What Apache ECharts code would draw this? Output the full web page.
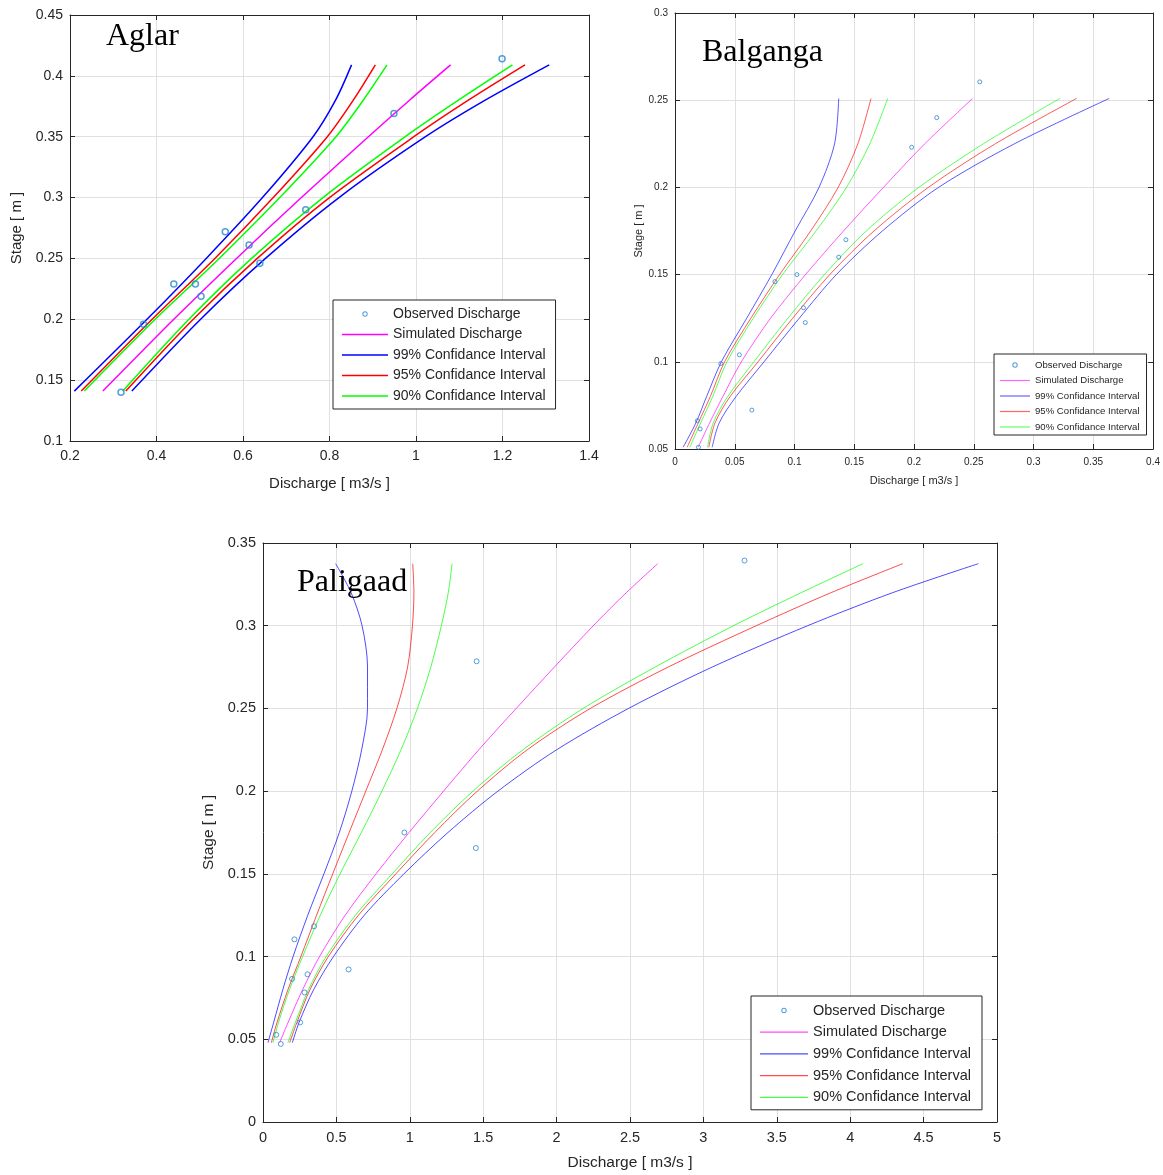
<!DOCTYPE html>
<html><head><meta charset="utf-8">
<script src="https://cdn.jsdelivr.net/npm/echarts@6/dist/echarts.min.js"></script>
<style>html,body{margin:0;padding:0;background:#fff}#c{width:1163px;height:1175px}</style>
</head><body><div id="c"></div>
<script>
// ---------------- Aglar ----------------
const aglarObsQ = [0.318, 0.370, 0.440, 0.490, 0.503, 0.559, 0.614, 0.639, 0.745, 0.949, 1.199];
const aglarObsH = [0.140, 0.196, 0.229, 0.229, 0.219, 0.272, 0.261, 0.246, 0.290, 0.369, 0.414];
const aglarStage = [0.141, 0.2, 0.25, 0.3, 0.35, 0.38, 0.409];
const aglarSim   = [0.276, 0.440, 0.585, 0.735, 0.890, 0.985, 1.080];
const aglar99Lo  = [0.210, 0.378, 0.515, 0.645, 0.762, 0.814, 0.851];
const aglar99Hi  = [0.343, 0.502, 0.652, 0.822, 1.022, 1.160, 1.308];
const aglar95Lo  = [0.226, 0.390, 0.535, 0.670, 0.795, 0.855, 0.906];
const aglar95Hi  = [0.329, 0.485, 0.633, 0.800, 0.995, 1.121, 1.252];
const aglar90Lo  = [0.233, 0.397, 0.545, 0.685, 0.815, 0.878, 0.933];
const aglar90Hi  = [0.322, 0.475, 0.620, 0.785, 0.975, 1.098, 1.223];

// ---------------- Balganga ----------------
const balObsQ = [0.255, 0.219, 0.198, 0.143, 0.137, 0.102, 0.0836, 0.1075, 0.109, 0.0539, 0.0383, 0.0643, 0.0187, 0.021, 0.0196];
const balObsH = [0.2605, 0.240, 0.223, 0.170, 0.160, 0.150, 0.146, 0.131, 0.1225, 0.104, 0.099, 0.0723, 0.0662, 0.0615, 0.051];
const balStage = [0.051, 0.065, 0.08, 0.1, 0.125, 0.15, 0.175, 0.2, 0.225, 0.251];
const balSim   = [0.0194, 0.029, 0.040, 0.0555, 0.080, 0.1092, 0.141, 0.1744, 0.209, 0.249];
const bal99Lo  = [0.0068, 0.0175, 0.0264, 0.0388, 0.0600, 0.081, 0.1005, 0.1205, 0.1335, 0.137];
const bal99Hi  = [0.0311, 0.037, 0.051, 0.0745, 0.104, 0.135, 0.1735, 0.2205, 0.284, 0.3633];
const bal95Lo  = [0.0102, 0.0195, 0.0295, 0.0415, 0.0635, 0.0875, 0.1135, 0.1365, 0.1530, 0.164];
const bal95Hi  = [0.0283, 0.0335, 0.046, 0.0695, 0.0985, 0.1295, 0.1665, 0.212, 0.268, 0.336];
const bal90Lo  = [0.0124, 0.0215, 0.0315, 0.0435, 0.0655, 0.090, 0.118, 0.1435, 0.163, 0.178];
const bal90Hi  = [0.0272, 0.032, 0.044, 0.066, 0.0945, 0.125, 0.160, 0.204, 0.258, 0.322];

// ---------------- Paligaad ----------------
const palObsQ = [3.28, 1.455, 0.963, 1.45, 0.348, 0.214, 0.583, 0.303, 0.198, 0.283, 0.253, 0.09, 0.121];
const palObsH = [0.3394, 0.2785, 0.175, 0.1656, 0.1183, 0.1104, 0.0922, 0.0893, 0.0865, 0.0783, 0.0602, 0.0527, 0.0472];
const palStage = [0.048, 0.06, 0.08, 0.1, 0.125, 0.15, 0.175, 0.2, 0.225, 0.25, 0.275, 0.3, 0.32, 0.3375];
const palSim   = [0.1135, 0.17, 0.27, 0.385, 0.56, 0.77, 0.995, 1.23, 1.47, 1.725, 1.985, 2.25, 2.475, 2.689];
const pal99Lo  = [0.034, 0.072, 0.135, 0.205, 0.305, 0.415, 0.52, 0.605, 0.672, 0.712, 0.712, 0.675, 0.60, 0.495];
const pal99Hi  = [0.20, 0.245, 0.345, 0.48, 0.69, 0.96, 1.26, 1.60, 2.0, 2.49, 3.06, 3.71, 4.29, 4.873];
const pal95Lo  = [0.057, 0.095, 0.17, 0.258, 0.365, 0.475, 0.587, 0.70, 0.813, 0.912, 0.985, 1.018, 1.028, 1.02];
const pal95Hi  = [0.182, 0.23, 0.32, 0.445, 0.65, 0.905, 1.17, 1.46, 1.80, 2.23, 2.76, 3.36, 3.87, 4.358];
const pal90Lo  = [0.068, 0.105, 0.18, 0.27, 0.39, 0.525, 0.67, 0.81, 0.94, 1.052, 1.143, 1.215, 1.262, 1.288];
const pal90Hi  = [0.170, 0.22, 0.31, 0.43, 0.63, 0.88, 1.14, 1.43, 1.771, 2.181, 2.671, 3.205, 3.667, 4.087];

const names = ['Observed Discharge', 'Simulated Discharge', '99% Confidance Interval', '95% Confidance Interval', '90% Confidance Interval'];
const titles = ['Aglar', 'Balganga', 'Paligaad'];
const xName = 'Discharge [ m3/s ]', yName = 'Stage [ m ]';

const pair = (q, h) => q.map((v, i) => [v, h[i]]);

const panels = [
  {grid:{left:70, top:15, width:519, height:426}, x:[0.2,1.4,0.2], y:[0.1,0.45,0.05], fs:14, nfs:15,
   xGap:35, yGap:46, lw:1.5, op:1, ms:6, mw:1.5,
   obs:[aglarObsQ, aglarObsH], stage:aglarStage, sim:aglarSim,
   ci:[[aglar99Lo, aglar99Hi],[aglar95Lo, aglar95Hi],[aglar90Lo, aglar90Hi]]},
  {grid:{left:675, top:13, width:480, height:436}, x:[0,0.4,0.05], y:[0.05,0.3,0.05], fs:10, nfs:11,
   xGap:26, yGap:30, lw:1, op:0.65, ms:4, mw:1,
   obs:[balObsQ, balObsH], stage:balStage, sim:balSim,
   ci:[[bal99Lo, bal99Hi],[bal95Lo, bal95Hi],[bal90Lo, bal90Hi]]},
  {grid:{left:263, top:543, width:734, height:579}, x:[0,5,0.5], y:[0,0.35,0.05], fs:14.5, nfs:15.5,
   xGap:33, yGap:46, lw:1, op:0.7, ms:5, mw:1,
   obs:[palObsQ, palObsH], stage:palStage, sim:palSim,
   ci:[[pal99Lo, pal99Hi],[pal95Lo, pal95Hi],[pal90Lo, pal90Hi]]}
];
const lineColors = ['#ff00ff', '#0000ff', '#ff0000', '#00ff00'];
const obsColor = '#2b86d1';
const axisCol = '#262626';

const grids = [], xAxes = [], yAxes = [], series = [];
panels.forEach((p, k) => {
  grids.push(Object.assign({show:false, containLabel:false}, p.grid));
  const labelStyle = {color: axisCol, fontSize: p.fs, fontFamily: 'Liberation Sans'};
  const tick = {show:true, inside:true, length:5, lineStyle:{color:axisCol}};
  const aLine = {show:true, onZero:false, lineStyle:{color:axisCol, width:1}};
  xAxes.push({type:'value', gridIndex:k, position:'bottom', min:p.x[0], max:p.x[1], interval:p.x[2],
    axisLine:aLine, axisTick:tick, axisLabel:Object.assign({margin:8}, labelStyle),
    splitLine:{show:true, lineStyle:{color:'#e0e0e0', width:1}},
    name:xName, nameLocation:'middle', nameGap:p.xGap,
    nameTextStyle:{color:axisCol, fontSize:p.nfs, fontFamily:'Liberation Sans'}});
  xAxes.push({type:'value', gridIndex:k, position:'top', min:p.x[0], max:p.x[1], interval:p.x[2],
    axisLine:aLine, axisTick:tick, axisLabel:{show:false}, splitLine:{show:false}});
  yAxes.push({type:'value', gridIndex:k, position:'left', min:p.y[0], max:p.y[1], interval:p.y[2],
    axisLine:aLine, axisTick:tick, axisLabel:Object.assign({margin:7}, labelStyle),
    splitLine:{show:true, lineStyle:{color:'#e0e0e0', width:1}},
    name:yName, nameLocation:'middle', nameGap:p.yGap, nameRotate:90,
    nameTextStyle:{color:axisCol, fontSize:p.nfs, fontFamily:'Liberation Sans'}});
  yAxes.push({type:'value', gridIndex:k, position:'right', min:p.y[0], max:p.y[1], interval:p.y[2],
    axisLine:aLine, axisTick:tick, axisLabel:{show:false}, splitLine:{show:false}});
  const xi = 2*k, yi = 2*k;
  const addLine = (name, q, color) => series.push({
    type:'line', name, xAxisIndex:xi, yAxisIndex:yi, data:pair(q, p.stage),
    symbol:'none', smooth:0.3, silent:true, animation:false,
    itemStyle:{color}, lineStyle:{color, width:p.lw, opacity:p.op}});
  addLine(names[1], p.sim, lineColors[0]);
  p.ci.forEach((c, j) => {
    addLine(names[2+j], c[0], lineColors[1+j]);
    addLine(names[2+j], c[1], lineColors[1+j]);
  });
  series.push({type:'scatter', name:names[0], xAxisIndex:xi, yAxisIndex:yi,
    data:pair(p.obs[0], p.obs[1]), symbol:'circle', symbolSize:p.ms, animation:false,
    itemStyle:{color:'rgba(0,0,0,0)', borderColor:obsColor, borderWidth:p.mw}, z:5});
});

function legendFor(left, top, w, h, fs, gap, pad, lineW, op) {
  const y0 = (h/2 - lineW/2).toFixed(2), y1 = (h/2 + lineW/2).toFixed(2);
  const lineIcon = `path://M0,0M${w},${h}M0,${y0}L${w},${y0}L${w},${y1}L0,${y1}Z`;
  const cx = w/2, cy = h/2, ro = 2.7, ri = 1.7;
  const ring = `path://M0,0M${w},${h}M${cx-ro},${cy}A${ro},${ro},0,1,1,${cx+ro},${cy}A${ro},${ro},0,1,1,${cx-ro},${cy}Z` +
               `M${cx-ri},${cy}A${ri},${ri},0,1,0,${cx+ri},${cy}A${ri},${ri},0,1,0,${cx-ri},${cy}Z`;
  return {
    orient:'vertical', left, top, itemWidth:w, itemHeight:h, itemGap:gap, padding:pad,
    borderColor:'#262626', borderWidth:1, backgroundColor:'#fff', selectedMode:false,
    itemStyle:{borderWidth:0},
    textStyle:{color:'#262626', fontSize:fs, fontFamily:'Liberation Sans', lineHeight:h},
    data:[
      {name:names[0], icon:ring, itemStyle:{color:obsColor}},
      {name:names[1], icon:lineIcon, itemStyle:{color:lineColors[0], opacity:op}},
      {name:names[2], icon:lineIcon, itemStyle:{color:lineColors[1], opacity:op}},
      {name:names[3], icon:lineIcon, itemStyle:{color:lineColors[2], opacity:op}},
      {name:names[4], icon:lineIcon, itemStyle:{color:lineColors[3], opacity:op}}
    ]
  };
}

const titleStyle = {fontFamily:'Liberation Serif', fontSize:32, fontWeight:'normal', color:'#000'};
const option = {
  backgroundColor:'#fff',
  animation:false,
  title:[
    {text:titles[0], left:106, top:21, padding:0, textStyle:titleStyle},
    {text:titles[1], left:702, top:37, padding:0, textStyle:titleStyle},
    {text:titles[2], left:297, top:567, padding:0, textStyle:titleStyle}
  ],
  legend:[
    legendFor(333, 300, 46, 14, 14, 6.5, [7,10,6,9], 1.6, 1),
    legendFor(994, 354, 30, 10, 9.6, 5.5, [6,7,3,6], 1.2, 0.6),
    legendFor(751, 996, 48, 14, 14.5, 6.7, [7,11,5,9], 1.2, 0.7)
  ],
  grid:grids, xAxis:xAxes, yAxis:yAxes, series
};
const chart = echarts.init(document.getElementById('c'), null, {renderer:'canvas'});
chart.setOption(option);
</script></body></html>
